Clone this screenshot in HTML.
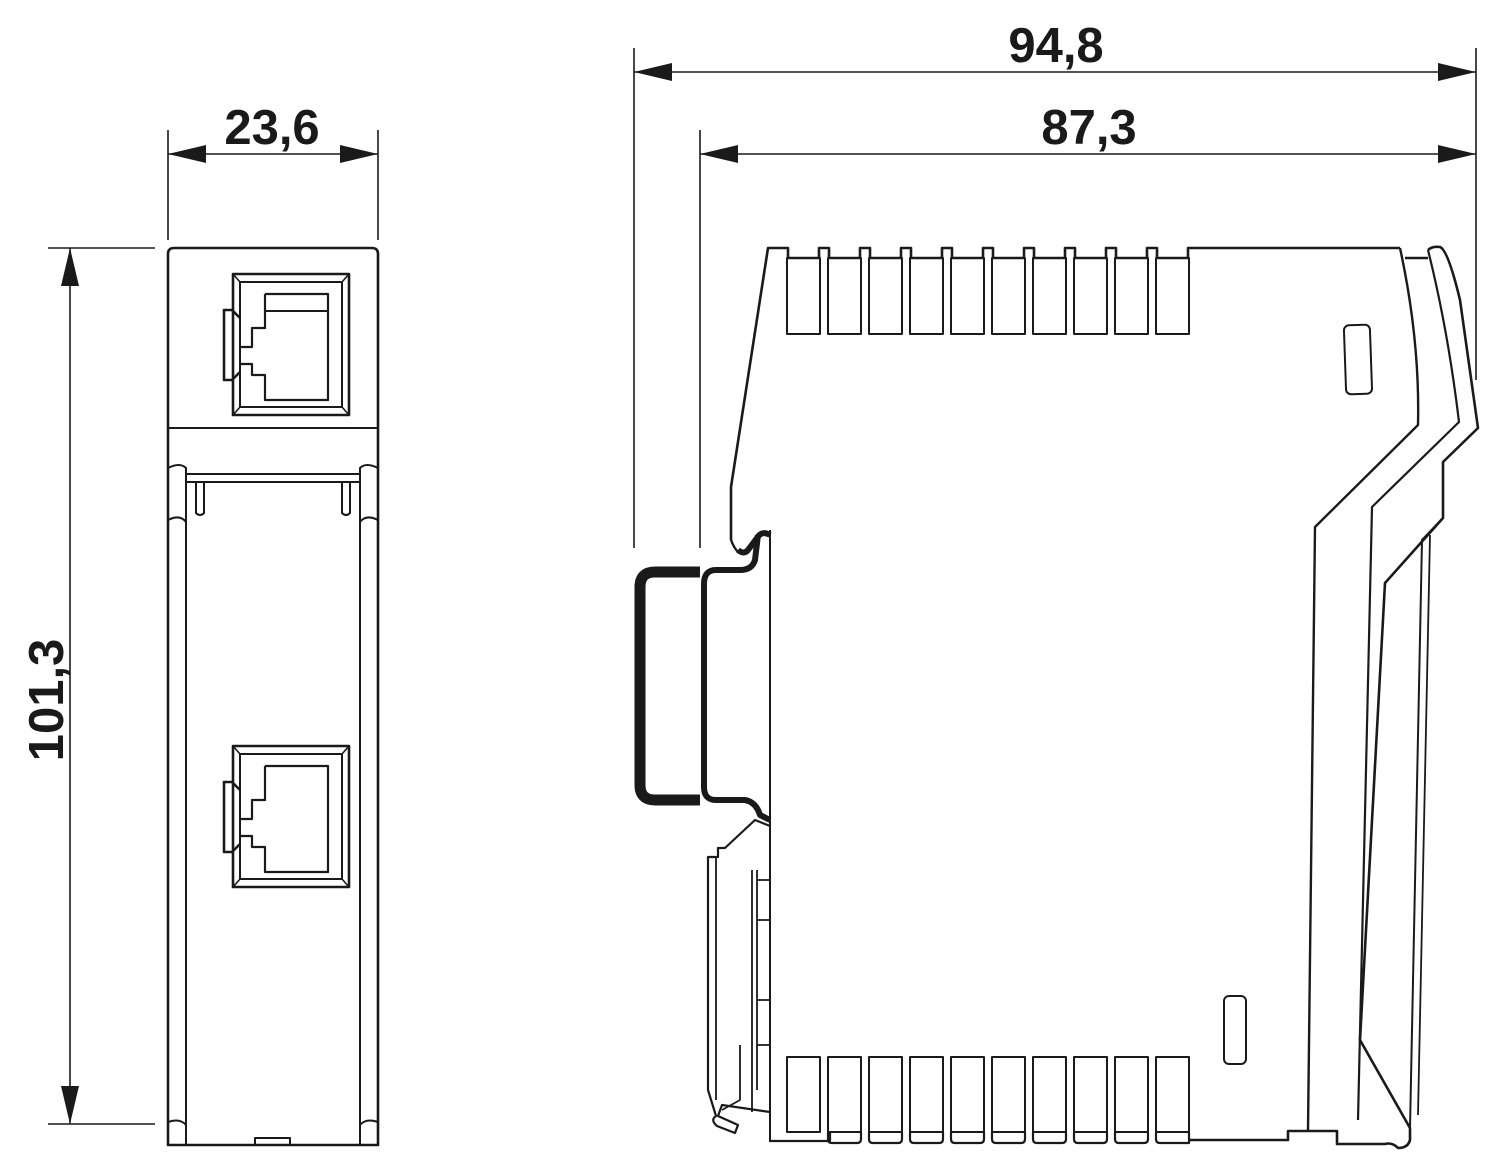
<!DOCTYPE html>
<html><head><meta charset="utf-8"><style>
html,body{margin:0;padding:0;background:#fff;}
svg{display:block;}
text{font-family:"Liberation Sans",Arial,sans-serif;font-weight:bold;font-size:49px;fill:#1a1a1a;}
</style></head><body>
<svg width="1500" height="1172" viewBox="0 0 1500 1172" xmlns="http://www.w3.org/2000/svg">
<g stroke="#1a1a1a" fill="none" stroke-width="1.6">
 <line x1="634" y1="48" x2="634" y2="548"/>
 <line x1="1476" y1="48" x2="1476" y2="380"/>
 <line x1="700" y1="130" x2="700" y2="548"/>
 <line x1="168" y1="130" x2="168" y2="240"/>
 <line x1="378" y1="130" x2="378" y2="240"/>
 <line x1="48" y1="248" x2="155" y2="248"/>
 <line x1="48" y1="1124" x2="155" y2="1124"/>
 <line x1="634" y1="72" x2="1476" y2="72"/>
 <line x1="700" y1="154" x2="1476" y2="154"/>
 <line x1="168" y1="154" x2="378" y2="154"/>
 <line x1="70" y1="248" x2="70" y2="1124"/>
</g>
<g fill="#1a1a1a">
 <polygon points="634,72 672,63 672,81"/>
 <polygon points="1476,72 1438,63 1438,81"/>
 <polygon points="700,154 738,145 738,163"/>
 <polygon points="1476,154 1438,145 1438,163"/>
 <polygon points="168,154 206,145 206,163"/>
 <polygon points="378,154 340,145 340,163"/>
 <polygon points="70,248 61,286 79,286"/>
 <polygon points="70,1124 61,1086 79,1086"/>
</g>
<text x="1056" y="62" text-anchor="middle">94,8</text>
<text x="1089" y="144" text-anchor="middle">87,3</text>
<text x="272" y="144" text-anchor="middle">23,6</text>
<text transform="translate(63,700) rotate(-90)" text-anchor="middle">101,3</text>

<!-- FRONT VIEW -->
<g stroke="#1a1a1a" fill="none" stroke-width="2.6" stroke-linejoin="round">
 <path d="M174,248 H372 Q378,248 378,254 V1145 H168 V254 Q168,248 174,248 Z"/>
 <line x1="168" y1="428" x2="378" y2="428" stroke-width="2"/>
 <line x1="186" y1="474" x2="360" y2="474" stroke-width="2"/>
 <line x1="186" y1="482" x2="360" y2="482" stroke-width="2"/>
 <path d="M168,468 Q180,462 186,468 V1125 Q180,1118 168,1122" stroke-width="2"/>
 <path d="M378,468 Q366,462 360,468 V1125 Q366,1118 378,1122" stroke-width="2"/>
 <path d="M168,520 Q180,514 186,522" stroke-width="2"/>
 <path d="M378,520 Q366,514 360,522" stroke-width="2"/>
 <path d="M196,482 V513 Q200,517 204,513 V482" stroke-width="2"/>
 <path d="M342,482 V513 Q346,517 350,513 V482" stroke-width="2"/>
 <path d="M186,1125 V1145 M360,1125 V1145" stroke-width="2"/>
 <path d="M255,1145 V1138 H290 V1145" stroke-width="2"/>
 <!-- top RJ45 -->
 <rect x="233" y="274" width="116" height="141"/>
 <rect x="240" y="282" width="102" height="125" stroke-width="2"/>
 <path d="M233,274 L240,282 M349,274 L342,282 M233,415 L240,407 M349,415 L342,407" stroke-width="1.6"/>
 <path d="M265,294 H328 V400 H265 V375 H252 V364 H240 M240,347 H252 V328 H265 V294" stroke-width="2.2"/>
 <line x1="265" y1="311" x2="328" y2="311" stroke-width="2"/>
 <path d="M240,318 L232,310 H224 V380 H232 L240,372"/>
 <!-- bottom RJ45 -->
 <rect x="233" y="746" width="116" height="141"/>
 <rect x="240" y="754" width="102" height="125" stroke-width="2"/>
 <path d="M233,746 L240,754 M349,746 L342,754 M233,887 L240,879 M349,887 L342,879" stroke-width="1.6"/>
 <path d="M265,766 H328 V872 H265 V847 H252 V836 H240 M240,819 H252 V800 H265 V766" stroke-width="2.2"/>
 <path d="M240,790 L232,782 H224 V852 H232 L240,844"/>
</g>

<!-- SIDE VIEW -->
<g stroke="#1a1a1a" fill="none" stroke-width="2.6" stroke-linejoin="round">
 <path d="M731,540 V487 L768,248 H788 V258 H819 V248 H829 V258 H860 V248 H870 V258 H901 V248 H911 V258 H942 V248 H952 V258 H983 V248 H993 V258 H1024 V248 H1034 V258 H1065 V248 H1075 V258 H1106 V248 H1116 V258 H1147 V248 H1157 V258 H1188 V248 H1400"/>
 <g stroke-width="2">
  <rect x="787" y="258" width="33" height="76"/>
  <rect x="828" y="258" width="33" height="76"/>
  <rect x="869" y="258" width="33" height="76"/>
  <rect x="910" y="258" width="33" height="76"/>
  <rect x="951" y="258" width="33" height="76"/>
  <rect x="992" y="258" width="33" height="76"/>
  <rect x="1033" y="258" width="33" height="76"/>
  <rect x="1074" y="258" width="33" height="76"/>
  <rect x="1115" y="258" width="33" height="76"/>
  <rect x="1156" y="258" width="33" height="76"/>
 </g>
 <!-- bottom fins -->
 <g stroke-width="2">
  <rect x="787" y="1057" width="33" height="75"/>
  <rect x="828" y="1057" width="33" height="75"/>
  <rect x="869" y="1057" width="33" height="75"/>
  <rect x="910" y="1057" width="33" height="75"/>
  <rect x="951" y="1057" width="33" height="75"/>
  <rect x="992" y="1057" width="33" height="75"/>
  <rect x="1033" y="1057" width="33" height="75"/>
  <rect x="1074" y="1057" width="33" height="75"/>
  <rect x="1115" y="1057" width="33" height="75"/>
  <rect x="1156" y="1057" width="33" height="75"/>
 </g>
 <path d="M770,1141 H830 V1132 M828,1132 V1139 Q828,1143 832,1143 H857 Q861,1143 861,1139 V1132 M869,1132 V1139 Q869,1143 873,1143 H898 Q902,1143 902,1139 V1132 M910,1132 V1139 Q910,1143 914,1143 H939 Q943,1143 943,1139 V1132 M951,1132 V1139 Q951,1143 955,1143 H980 Q984,1143 984,1139 V1132 M992,1132 V1139 Q992,1143 996,1143 H1021 Q1025,1143 1025,1139 V1132 M1033,1132 V1139 Q1033,1143 1037,1143 H1062 Q1066,1143 1066,1139 V1132 M1074,1132 V1139 Q1074,1143 1078,1143 H1103 Q1107,1143 1107,1139 V1132 M1115,1132 V1139 Q1115,1143 1119,1143 H1144 Q1148,1143 1148,1139 V1132 M1156,1132 V1139 Q1156,1143 1160,1143 H1189 V1132" stroke-width="2.2"/>
 <path d="M1189,1140 H1288 V1131 H1308"/>
 <!-- body right -->
 <path d="M1400,248 Q1420,340 1418,425 L1315,527 L1308,1130" stroke-width="2.4"/>
 <path d="M1405,258 H1428 M1428,250 Q1432,246 1440,247 Q1448,250 1460,300 L1478,428 L1443,462 V518 L1385,583 L1360,1040 L1410,1128 V1140 Q1408,1148 1398,1148 Q1392,1142 1385,1144 H1337 V1131 H1308"/>
 <path d="M1428,250 Q1448,330 1459,422 L1372,507 L1358,1120" stroke-width="2.2"/>
 <path d="M1443,518 L1422,540 L1410,1128" stroke-width="2"/>
 <path d="M1430,535 L1418,1115" stroke-width="1.8"/>
 <line x1="770" y1="530" x2="770" y2="1142" stroke-width="2"/>
 <rect x="1345" y="325" width="26" height="69" rx="5" transform="rotate(-2 1358 360)" stroke-width="2"/>
 <rect x="1224" y="996" width="22" height="68" rx="5" stroke-width="2"/>
</g>
<!-- DIN rail -->
<g stroke="#1a1a1a" fill="none" stroke-linejoin="round">
 <path d="M700,572 H655 Q640,572 640,587 V785 Q640,800 655,800 H700" stroke-width="11"/>
 <path d="M770,535 Q762,530 757,538 L748,550 Q744,555 738,550 M758,535 L755,560 Q752,570 740,570 H716 Q704,570 704,584 V787 Q704,800 716,800 H745 Q756,802 760,815 L770,820" stroke-width="6"/>
 <path d="M738,552 Q734,548 731,540" stroke-width="2.4"/>
 <path d="M770,826 L755,820 L725,848 H718 V857 H708 V1090 L716,1116 Q710,1120 717,1126 L735,1133 L738,1125 L718,1116 L722,1105 L770,1112" stroke-width="2.2"/>
 <path d="M716,857 V1100 M752,870 V1112 M757,870 V1090 M757,880 H770 M757,920 H770 M757,1000 H770 M757,1045 H770" stroke-width="1.8"/>
 <path d="M740,1045 V1100 L722,1110" stroke-width="1.8"/>
</g>
</svg>
</body></html>
